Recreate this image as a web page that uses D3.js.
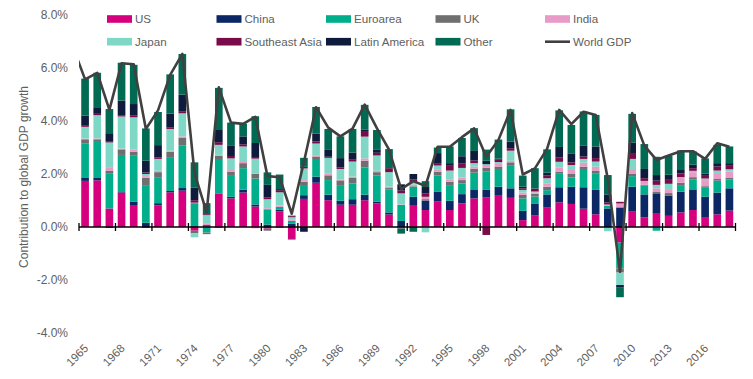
<!DOCTYPE html>
<html><head><meta charset="utf-8">
<script src="https://cdn.jsdelivr.net/npm/d3@7"></script>
<style>
body{margin:0;background:#fff}
svg{display:block}
text{font-family:"Liberation Sans",Arial,Helvetica,sans-serif;fill:#606060}
</style>
</head><body>
<svg id="chart" width="753" height="379"></svg>
<script>
const years = [1965,1966,1967,1968,1969,1970,1971,1972,1973,1974,1975,1976,1977,1978,1979,1980,1981,1982,1983,1984,1985,1986,1987,1988,1989,1990,1991,1992,1993,1994,1995,1996,1997,1998,1999,2000,2001,2002,2003,2004,2005,2006,2007,2008,2009,2010,2011,2012,2013,2014,2015,2016,2017,2018];
const seriesNames = ["US","China","Euroarea","UK","India","Japan","Southeast Asia","Latin America","Other"];
const US = [1.74,1.76,0.70,1.30,0.83,-0.03,0.82,1.31,1.37,-0.14,0.02,1.27,1.08,1.30,0.77,-0.06,0.59,-0.45,1.06,1.67,1.01,0.84,0.84,1.01,0.89,0.47,-0.02,0.83,0.64,0.96,0.64,0.89,1.08,1.11,1.18,1.10,0.26,0.43,0.73,0.93,0.87,0.69,0.48,0.00,-0.59,0.60,0.36,0.50,0.42,0.55,0.64,0.35,0.48,0.62];
const China = [0.11,0.09,-0.03,0.02,0.13,0.16,0.08,0.05,0.10,0.03,0.05,-0.02,0.06,0.11,0.08,0.09,0.07,0.12,0.14,0.23,0.21,0.15,0.21,0.21,0.06,0.08,0.23,0.31,0.35,0.38,0.35,0.35,0.34,0.29,0.34,0.36,0.35,0.44,0.50,0.57,0.65,0.81,0.92,0.70,0.74,0.92,0.87,0.77,0.77,0.78,0.78,0.79,0.82,0.84];
const Euroarea = [1.31,1.36,1.33,1.40,1.75,1.42,0.98,1.25,1.60,0.87,-0.21,1.26,0.82,0.81,0.98,0.58,0.10,0.07,0.35,0.63,0.55,0.59,0.59,1.03,0.99,0.86,0.60,0.38,0.00,0.60,0.59,0.40,0.63,0.69,0.67,0.85,0.47,0.28,0.16,0.53,0.35,0.69,0.63,0.10,-0.97,0.40,0.33,-0.14,-0.04,0.25,0.38,0.34,0.45,0.34];
const UK = [0.15,0.10,0.10,0.21,0.13,0.28,0.19,0.23,0.29,-0.10,-0.06,0.16,0.13,0.19,0.18,-0.08,-0.03,0.04,0.16,0.13,0.18,0.18,0.21,0.25,0.13,0.06,-0.05,0.02,0.06,0.15,0.13,0.13,0.15,0.15,0.09,0.13,0.13,0.10,0.13,0.06,0.13,0.09,0.10,-0.02,-0.16,0.08,0.03,0.05,0.09,0.09,0.08,0.06,0.06,0.05];
const India = [0.03,0.03,0.10,0.03,0.08,0.06,0.05,0.04,0.06,0.02,0.05,0.03,0.06,0.08,-0.05,0.04,0.05,0.04,0.06,0.05,0.06,0.04,0.05,0.09,0.05,0.05,0.02,0.06,0.09,0.09,0.09,0.10,0.08,0.10,0.13,0.06,0.09,0.06,0.13,0.16,0.15,0.15,0.15,0.05,0.15,0.19,0.15,0.14,0.15,0.19,0.19,0.23,0.19,0.24];
const Japan = [0.44,0.88,0.96,1.21,1.22,0.08,0.45,0.82,0.87,-0.15,0.33,0.38,0.44,0.55,0.57,0.34,0.50,0.10,0.44,0.44,0.60,0.39,0.57,0.82,0.58,0.55,0.42,0.10,-0.20,0.14,0.33,0.36,0.13,0.03,0.04,0.38,0.10,0.03,0.19,0.21,0.19,0.14,0.19,-0.14,-0.47,0.38,0.00,0.13,0.20,0.02,0.05,0.06,0.13,0.09];
const SoutheastAsia = [0.04,0.05,0.05,0.05,0.06,0.06,0.05,0.05,0.08,0.09,0.03,0.10,0.09,0.08,0.06,0.06,0.08,0.04,0.06,0.08,0.04,0.06,0.09,0.18,0.10,0.15,0.11,0.09,0.12,0.09,0.18,0.16,0.10,-0.30,0.09,0.09,0.06,0.11,0.10,0.16,0.10,0.09,0.13,0.08,0.06,0.19,0.10,0.16,0.15,0.14,0.10,0.13,0.15,0.13];
const LatinAmerica = [0.38,0.25,0.30,0.55,0.44,0.44,0.47,0.53,0.63,0.47,0.04,0.49,0.38,0.30,0.53,0.48,0.04,-0.02,-0.18,0.29,0.26,0.35,0.25,0.08,0.13,0.00,0.23,0.21,0.25,0.38,0.10,0.28,0.36,0.13,0.04,0.25,0.06,0.00,0.11,0.40,0.34,0.42,0.44,0.30,-0.10,0.43,0.35,0.21,0.19,0.13,0.13,0.06,0.13,0.10];
const Other = [1.40,1.30,0.91,1.43,1.48,1.22,1.25,1.48,1.53,0.96,0.38,1.56,0.88,0.48,1.01,0.47,0.55,0.02,0.34,1.01,0.79,0.82,0.89,0.94,0.73,0.72,-0.18,-0.18,0.22,0.21,0.63,0.69,0.86,0.42,0.72,1.22,0.42,0.77,0.88,1.38,1.07,1.28,1.19,0.73,-0.36,1.08,0.94,0.69,0.72,0.74,0.50,0.57,0.69,0.63];
const worldYears = [1964,1965,1966,1967,1968,1969,1970,1971,1972,1973,1974,1975,1976,1977,1978,1979,1980,1981,1982,1983,1984,1985,1986,1987,1988,1989,1990,1991,1992,1993,1994,1995,1996,1997,1998,1999,2000,2001,2002,2003,2004,2005,2006,2007,2008,2009,2010,2011,2012,2013,2014,2015,2016,2017,2018];
const worldGDP = [6.8,5.57,5.82,4.42,6.18,6.14,3.70,4.40,5.74,6.53,2.03,0.55,5.27,3.94,3.89,4.16,1.92,1.88,0.50,2.45,4.52,3.75,3.42,3.71,4.62,3.73,2.92,1.43,1.73,1.55,3.03,3.03,3.39,3.72,2.65,3.28,4.42,1.98,2.21,2.95,4.42,3.88,4.35,4.23,1.80,-1.69,4.30,3.07,2.53,2.70,2.86,2.86,2.57,3.16,3.03];
const yTicks = [8,6,4,2,0,-2,-4];
const xTickLabels = [1965,1968,1971,1974,1977,1980,1983,1986,1989,1992,1995,1998,2001,2004,2007,2010,2013,2016];
const colors = ["#D6007E","#0C2766","#00AE8C","#6F6F6F","#E99BC8","#7FD8C6","#7A0B4B","#0E1B3D","#006A53"];
const lineColor = "#404040";

const seriesArrays = [US,China,Euroarea,UK,India,Japan,SoutheastAsia,LatinAmerica,Other];
const table = years.map((yr,i)=>{const o={year:yr}; seriesNames.forEach((k,j)=>o[k]=seriesArrays[j][i]); return o;});

const svg = d3.select("#chart");
const x0 = 79, x1 = 735.5;
const pIn = 0.37;
const x = d3.scaleBand().domain(years).range([x0,x1]).paddingInner(pIn).paddingOuter(pIn/2);
const y = d3.scaleLinear().domain([-4,8]).range([333,15]);
const step = x.step();
const cx = yr => (yr < years[0]) ? x(years[0]) + x.bandwidth()/2 - step*(years[0]-yr) : x(yr) + x.bandwidth()/2;

const stack = d3.stack().keys(seriesNames).offset(d3.stackOffsetDiverging);
const stacked = stack(table);

svg.append("g").selectAll("g").data(stacked).join("g")
  .attr("fill",(d,i)=>colors[i])
  .selectAll("rect").data(d=>d).join("rect")
  .attr("x",d=>x(d.data.year))
  .attr("width",x.bandwidth())
  .attr("y",d=>y(Math.max(d[0],d[1])))
  .attr("height",d=>Math.abs(y(d[0])-y(d[1])));

// x axis line & ticks
const axisG = svg.append("g");
axisG.append("line").attr("x1",x0).attr("x2",x1).attr("y1",y(0)).attr("y2",y(0))
  .attr("stroke","#000").attr("stroke-width",1.6);
const tickPos = xTickLabels.map(yr=>x(yr)-step*pIn/2).concat([x1]);
axisG.selectAll("line.t").data(tickPos).join("line").attr("class","t")
  .attr("x1",d=>d).attr("x2",d=>d).attr("y1",y(0)-4).attr("y2",y(0)+4)
  .attr("stroke","#000").attr("stroke-width",1.3);

// x labels
svg.append("g").selectAll("text").data(xTickLabels).join("text")
  .attr("transform",d=>`translate(${cx(d)+4},349) rotate(-45)`)
  .attr("text-anchor","end").attr("font-size",11.5).text(d=>d);

// y labels
svg.append("g").selectAll("text").data(yTicks).join("text")
  .attr("x",68).attr("y",d=>y(d)+4).attr("text-anchor","end").attr("font-size",12)
  .text(d=>d.toFixed(1)+"%");

// y title
svg.append("text").attr("transform","translate(28,177) rotate(-90)")
  .attr("text-anchor","middle").attr("font-size",12).text("Contribution to global GDP growth");

// world GDP line
svg.append("clipPath").attr("id","clip").append("rect").attr("x",x0).attr("y",0).attr("width",x1-x0+5).attr("height",379);
const line = d3.line().x((d,i)=>cx(worldYears[i])).y(d=>y(d));
svg.append("path").datum(worldGDP).attr("d",line).attr("fill","none")
  .attr("stroke",lineColor).attr("stroke-width",2.6).attr("stroke-linejoin","round")
  .attr("clip-path","url(#clip)");

// legend
const legendItems = seriesNames.map((n,i)=>({name:n,color:colors[i],type:"rect"})).concat([{name:"World GDP",color:lineColor,type:"line"}]);
const lg = svg.append("g").selectAll("g").data(legendItems).join("g")
  .attr("transform",(d,i)=>`translate(${107+(i%5)*109.5},${19+Math.floor(i/5)*22.7})`);
lg.filter(d=>d.type==="rect").append("rect").attr("x",0).attr("y",-3.8).attr("width",25).attr("height",7.6).attr("fill",d=>d.color);
lg.filter(d=>d.type==="line").append("line").attr("x1",0).attr("x2",25).attr("y1",0).attr("y2",0).attr("stroke",d=>d.color).attr("stroke-width",2.6);
lg.append("text").attr("x",28).attr("y",4.2).attr("font-size",11.6).text(d=>d.name);
</script>
</body></html>
